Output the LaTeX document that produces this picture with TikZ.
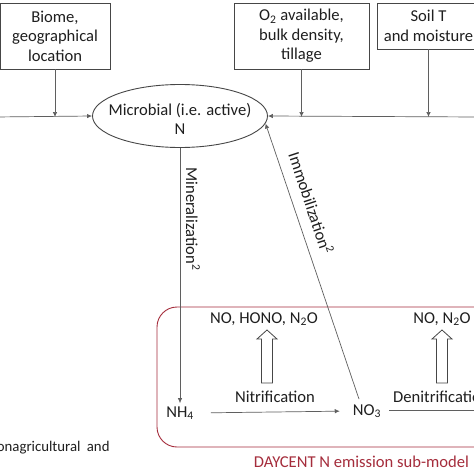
\documentclass[tikz,border=0pt]{standalone}
\usepackage{fontspec}
\setmainfont{Carlito}
\usetikzlibrary{arrows.meta,shapes.geometric,calc}
\definecolor{ln}{RGB}{95,95,95}
\definecolor{bx}{RGB}{70,70,70}
\definecolor{dred}{RGB}{165,45,60}
\newcommand{\mysub}[1]{\textsubscript{#1}}
\begin{document}
\begin{tikzpicture}[x=1pt,y=-1pt,
  txt/.style={font=\fontsize{16.6}{19.5}\selectfont, text=black!88, align=center, inner sep=0pt},
  box/.style={draw=bx, line width=0.9pt, txt},
  arr/.style={draw=ln, line width=0.7pt, -{Latex[length=5pt,width=4.5pt]}},
  plain/.style={draw=ln, line width=0.7pt},
  hollow/.style={draw=bx, line width=0.8pt, fill=white, line join=miter}
]
\useasboundingbox (0,0) rectangle (474,474);
\fill[white] (0,0) rectangle (474,474);

% top boxes
\node[box, minimum width=110, minimum height=66] (biome) at (55,36) {Biome,\\geographical\\location};
\node[box, minimum width=135, minimum height=66] (o2) at (301.5,36) {O\mysub{2} available,\\bulk density,\\tillage};
\node[box, minimum width=103, minimum height=46] (soil) at (428.5,26) {Soil T\\and moisture};

% microbial N
\node[ellipse, draw=bx, line width=0.9pt, minimum width=175, minimum height=63, inner sep=0pt] (micro) at (180,116) {};
\node[txt] (microtxt) at (180,119) {Microbial (i.e. active)\\N};

\coordinate (lin) at (-5,117);
\coordinate (rin) at (480,117);
\coordinate (bj) at (55,117);
\coordinate (oj) at (301.5,117);
\coordinate (sj) at (428.5,117);
\draw[arr] (lin) -- (micro.west);
\draw[arr] (rin) -- (micro.east);
\draw[arr] (biome.south) -- (bj);
\draw[arr] (o2.south) -- (oj);
\draw[arr] (soil.south) -- (sj);

% sub-model frame
\node[draw=dred, line width=0.9pt, rounded corners=20pt, minimum width=380, minimum height=140, inner sep=0pt] (frame) at (347,377) {};

% pools
\node[txt] (nh4) at (180,413) {NH\mysub{4}};
\node[txt] (no3) at (367,411) {NO\mysub{3}};

\draw[arr, shorten >=3pt] (micro.south) -- (nh4.north);
\node[txt, rotate=-90] (minlab) at (193,219) {Mineralization\textsuperscript{2}};

\draw[arr] ($(no3.north)+(-8,-5)$) -- (micro.-5);
\node[txt, rotate=-71.7] (immlab) at (311.5,203) {Immobilization\textsuperscript{2}};

\draw[arr, shorten <=17pt, shorten >=13pt] (nh4.east) -- (no3.west);
\coordinate (dout) at (480,410);
\draw[plain, shorten <=8pt] (no3.east |- dout) -- (dout);

% processes and gases
\node[txt] (nit) at (275,397) {Nitrification};
\node[txt, anchor=west] (den) at (393,397) {Denitrification};
\node[txt] (g1) at (264,319) {NO, HONO, N\mysub{2}O};
\node[txt] (g2) at (442,319) {NO, N\mysub{2}O};

\draw[hollow] (261.5,383) -- (272.5,383) -- (272.5,339) -- (277,339) -- (267,330) -- (257,339) -- (261.5,339) -- cycle;
\draw[hollow] (436.5,383) -- (447.5,383) -- (447.5,339) -- (452,339) -- (442,330) -- (432,339) -- (436.5,339) -- cycle;

\node[txt, text=dred] (dlab) at (361.5,462) {DAYCENT N emission sub-model};
\node[txt, font=\fontsize{14.8}{18}\selectfont, anchor=west] (nonag) at (4.5,448) {\llap{no}nagricultural\hspace{3pt} and};
\end{tikzpicture}
\end{document}
